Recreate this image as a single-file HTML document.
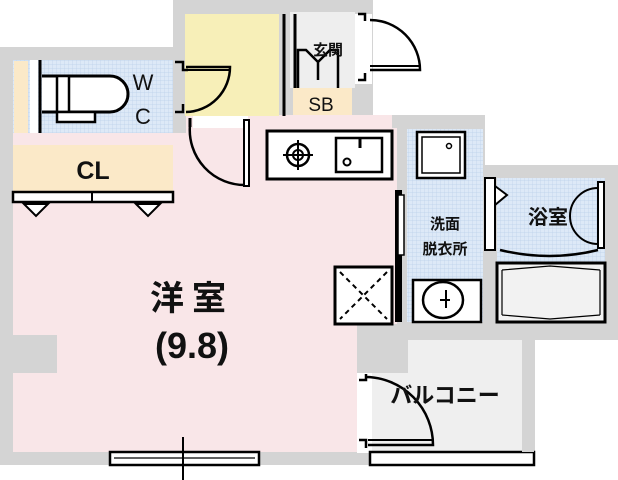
<!DOCTYPE html>
<html><head><meta charset="utf-8"><style>
html,body{margin:0;padding:0;background:#fff;}
svg{display:block;}
text{font-family:"Liberation Sans","Noto Sans CJK JP",sans-serif;fill:#111;}
</style></head><body>
<svg width="618" height="480" viewBox="0 0 618 480" xmlns="http://www.w3.org/2000/svg">
<defs>
<pattern id="grid" width="4" height="4" patternUnits="userSpaceOnUse">
<rect width="4" height="4" fill="#dde9f7"/><path d="M0 0H4M0 0V4" stroke="#bcd0ea" stroke-width="0.7"/>
</pattern>
</defs>
<g fill="#d4d4d4">
<rect x="0" y="47" width="186" height="418"/>
<rect x="173" y="0" width="200" height="128"/>
<rect x="245" y="115" width="240" height="15"/>
<rect x="392" y="115" width="93" height="225"/>
<rect x="483" y="165" width="135" height="175"/>
<rect x="355" y="322" width="180" height="143"/>
<rect x="0" y="440" width="372" height="25"/>
</g>
<rect x="13" y="133" width="344" height="319" fill="#f9e6e8"/>
<rect x="186" y="115" width="206" height="20" fill="#f9e6e8"/>
<rect x="357" y="128" width="40" height="196" fill="#f9e6e8"/>
<rect x="13" y="60" width="160" height="73" fill="url(#grid)"/>
<rect x="14" y="61" width="14" height="72" fill="#fbe9c8"/>
<rect x="30" y="60" width="8" height="73" fill="#fff"/>
<line x1="40" y1="60" x2="40" y2="133" stroke="#000" stroke-width="3"/>
<path d="M42 76 H110 A16 16 0 0 1 110 112 H42" fill="#fff" stroke="#000" stroke-width="3"/>
<rect x="57" y="76" width="12" height="36" fill="#fff" stroke="#000" stroke-width="2.5"/>
<rect x="57" y="112" width="38" height="10" fill="#fff" stroke="#000" stroke-width="2.5"/>
<text x="143" y="90" font-size="22" text-anchor="middle">W</text>
<text x="143" y="124" font-size="22" text-anchor="middle">C</text>
<rect x="13" y="145" width="160" height="47" fill="#fbe9c8"/>
<rect x="13" y="192" width="160" height="10" fill="#fff" stroke="#000" stroke-width="2.5"/>
<line x1="92" y1="192" x2="92" y2="202" stroke="#000" stroke-width="2"/>
<path d="M24 204 L36 216 L48 204 Z M136 204 L148 216 L160 204 Z" fill="#fff" stroke="#000" stroke-width="2"/>
<text x="93" y="179" font-size="25" font-weight="bold" text-anchor="middle">CL</text>
<rect x="185" y="14" width="94" height="102" fill="#f7efb8"/>
<rect x="193" y="116" width="55" height="12" fill="#fff"/>
<path d="M175 62h8v8h5" fill="none" stroke="#000" stroke-width="2.5"/>
<path d="M175 112h8v-8" fill="none" stroke="#000" stroke-width="2.5"/>
<path d="M186 67 H230 A45 45 0 0 1 186 112" fill="none" stroke="#000" stroke-width="2.5"/>
<line x1="186" y1="70" x2="230" y2="70" stroke="#000" stroke-width="2"/>
<path d="M190 118 V127" stroke="#000" stroke-width="3"/>
<path d="M190 125 A55 55 0 0 0 246 185" fill="none" stroke="#000" stroke-width="2.5"/>
<rect x="244" y="120" width="5" height="66" fill="#fff" stroke="#000" stroke-width="2"/>
<rect x="290" y="12" width="65" height="76" fill="#eeeeee"/>
<line x1="284" y1="14" x2="284" y2="116" stroke="#000" stroke-width="3"/>
<line x1="295" y1="14" x2="295" y2="90" stroke="#000" stroke-width="3"/>
<path d="M298 90 V50 h8 l12 12 V80 M318 62 L330 50 h8 V90" fill="none" stroke="#000" stroke-width="2.5"/>
<rect x="293" y="88" width="59" height="27" fill="#fbe9c8"/>
<text x="321" y="111" font-size="19" text-anchor="middle">SB</text>
<text x="328" y="55" font-size="15" font-weight="bold" text-anchor="middle">玄関</text>
<rect x="355" y="14" width="17" height="70" fill="#fff"/>
<path d="M358 14h7v7" fill="none" stroke="#000" stroke-width="2.5"/>
<path d="M358 80h7v-7" fill="none" stroke="#000" stroke-width="2.5"/>
<path d="M370 20 A50 50 0 0 1 420 70 H370" fill="none" stroke="#000" stroke-width="2.5"/>
<line x1="370" y1="66" x2="420" y2="66" stroke="#000" stroke-width="2"/>
<rect x="267" y="131" width="125" height="48" fill="#fff" stroke="#000" stroke-width="3"/>
<circle cx="298" cy="155" r="11" fill="#fff" stroke="#000" stroke-width="2.5"/>
<circle cx="298" cy="155" r="5" fill="none" stroke="#000" stroke-width="2"/>
<path d="M283 155h30M298 140v30" stroke="#000" stroke-width="2"/>
<rect x="336" y="138" width="46" height="34" fill="#fff" stroke="#000" stroke-width="2.5"/>
<path d="M360 138v10" stroke="#000" stroke-width="3"/>
<circle cx="347" cy="162" r="3.5" fill="none" stroke="#000" stroke-width="2"/>
<rect x="407" y="129" width="76" height="193" fill="url(#grid)"/>
<rect x="417" y="132" width="48" height="46" fill="#fff" stroke="#000" stroke-width="2.5"/>
<rect x="422" y="137" width="38" height="36" fill="none" stroke="#000" stroke-width="1.5"/>
<circle cx="449" cy="146" r="2.5" fill="none" stroke="#000" stroke-width="1.5"/>
<text x="445" y="229" font-size="15" font-weight="bold" text-anchor="middle">洗面</text>
<text x="445" y="254" font-size="15" font-weight="bold" text-anchor="middle">脱衣所</text>
<rect x="413" y="280" width="68" height="42" fill="#fff" stroke="#000" stroke-width="2.5"/>
<ellipse cx="443" cy="300" rx="20" ry="18" fill="#fff" stroke="#000" stroke-width="2.5"/>
<path d="M446 290v18M440 300h10" stroke="#000" stroke-width="2"/>
<rect x="395" y="190" width="7" height="132" fill="#000"/>
<rect x="398" y="195" width="6" height="60" fill="#fff" stroke="#000" stroke-width="1.5"/>
<line x1="401" y1="258" x2="401" y2="322" stroke="#000" stroke-width="1" stroke-dasharray="2 2"/>
<rect x="335" y="267" width="57" height="57" fill="#fff" stroke="#000" stroke-width="3"/>
<path d="M340 272L387 319M387 272L340 319" stroke="#000" stroke-width="2" stroke-dasharray="5 4"/>
<rect x="497" y="178" width="108" height="85" fill="url(#grid)"/>
<rect x="485" y="178" width="10" height="72" fill="#fff" stroke="#000" stroke-width="2"/>
<path d="M495 186 L507 195 L495 205Z" fill="#fff" stroke="#000" stroke-width="2"/>
<text x="548" y="224" font-size="20" font-weight="bold" text-anchor="middle">浴室</text>
<path d="M598 188 A28 28 0 0 0 598 244" fill="none" stroke="#000" stroke-width="2"/>
<rect x="598" y="182" width="6" height="66" fill="#fff" stroke="#000" stroke-width="2"/>
<path d="M500 250 Q550 262 598 250" fill="none" stroke="#000" stroke-width="2.5"/>
<rect x="497" y="263" width="108" height="59" fill="#f2f2f2" stroke="#000" stroke-width="3"/>
<path d="M502 270 L550 266 L600 270 M502 315 L550 319 L600 315 M502 270 V315 M600 270V315" fill="none" stroke="#000" stroke-width="1.2"/>
<rect x="370" y="340" width="152" height="112" fill="#efefef"/>
<rect x="357" y="373" width="15" height="80" fill="#fff"/>
<rect x="357" y="335" width="51" height="38" fill="#d4d4d4"/>
<rect x="13" y="335" width="44" height="38" fill="#d4d4d4"/>
<path d="M359 380h7v-6" fill="none" stroke="#000" stroke-width="2.5"/>
<path d="M359 440h7v8" fill="none" stroke="#000" stroke-width="2.5"/>
<path d="M366 377 A68 68 0 0 1 433 445 H368" fill="none" stroke="#000" stroke-width="2.5"/>
<line x1="368" y1="440" x2="433" y2="440" stroke="#000" stroke-width="2"/>
<text x="445" y="403" font-size="22" font-weight="bold" text-anchor="middle">バルコニー</text>
<rect x="370" y="452" width="164" height="13" fill="#fff" stroke="#000" stroke-width="2.5"/>
<rect x="522" y="340" width="12" height="112" fill="#d4d4d4"/>
<rect x="110" y="452" width="149" height="13" fill="#fff" stroke="#000" stroke-width="2.5"/>
<line x1="114" y1="458" x2="255" y2="458" stroke="#000" stroke-width="1.2"/>
<line x1="183" y1="437" x2="183" y2="480" stroke="#000" stroke-width="2"/>
<text x="192" y="310" font-size="34" font-weight="bold" text-anchor="middle" letter-spacing="8">洋室</text>
<text x="192" y="358" font-size="36" font-weight="bold" text-anchor="middle">(9.8)</text>
</svg>
</body></html>
